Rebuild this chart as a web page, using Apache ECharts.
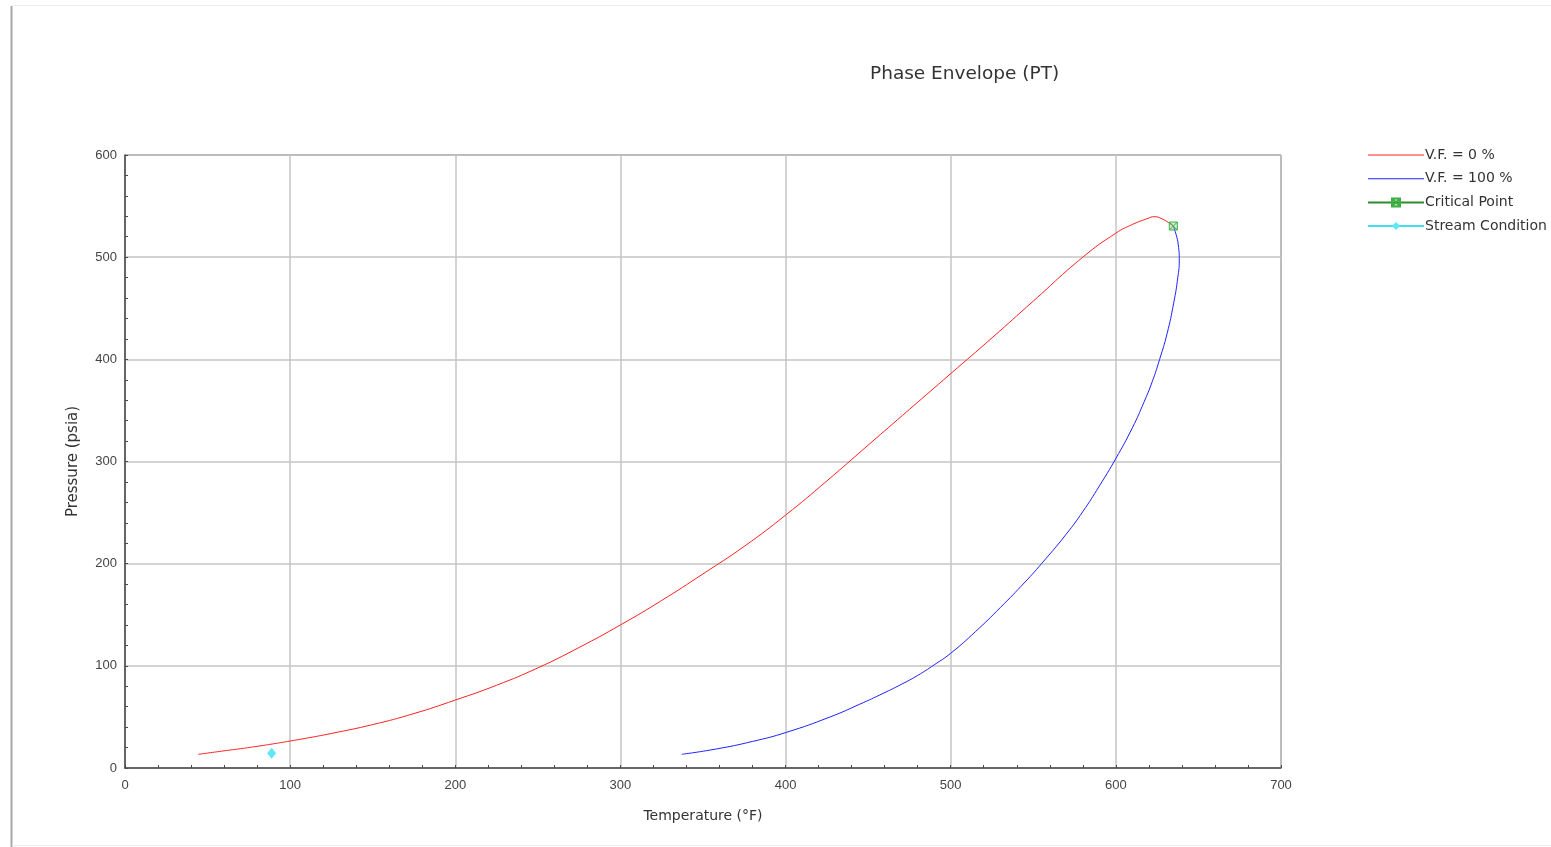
<!DOCTYPE html>
<html>
<head>
<meta charset="utf-8">
<script src="https://cdn.jsdelivr.net/npm/echarts@6/dist/echarts.min.js"></script>
<style>
html,body{margin:0;padding:0;background:#fff;}
#c{width:1551px;height:847px;}
</style>
</head>
<body>
<div id="c"></div>
<script>
const titleText = 'Phase Envelope (PT)';
const xAxisName = 'Temperature (°F)';
const yAxisName = 'Pressure (psia)';
const seriesNames = ['V.F. = 0 %', 'V.F. = 100 %', 'Critical Point', 'Stream Condition'];

// Bubble line (vapor fraction 0 %): [T °F, P psia]
const bubbleT = [44.4, 50, 60, 70, 80, 90, 100, 112, 125, 150, 175, 200, 225, 250, 275, 300, 325, 350, 375, 400, 425, 450, 475, 500, 525, 550, 580, 600, 610, 619.5, 623, 628, 634.8];
const bubbleP = [13.4, 14.6, 16.8, 18.9, 21.2, 23.7, 26.4, 29.8, 33.8, 42.5, 53.3, 66.5, 81, 98, 118, 140, 164, 190, 217, 247.5, 281, 316, 351, 386, 421, 457, 500, 523.5, 532, 538, 539.6, 537.5, 530.5];

// Dew line (vapor fraction 100 %)
const dewT = [337.1, 358, 380, 400.7, 427, 445, 459, 470, 480, 490, 500, 515, 530, 545, 555, 570, 580, 590, 600, 610, 617, 622, 626.5, 631, 635, 637.5, 638.4, 637.8, 636.5, 634.8];
const dewP = [13.4, 18.6, 26, 35, 50, 62.5, 73, 81.8, 90.6, 101, 112.3, 133.5, 157, 182, 200, 229, 251, 276, 303, 333, 358, 378, 400, 425, 455, 480, 497, 512, 522, 530.5];

const criticalT = [634.8];
const criticalP = [530.5];
const streamT = [88.8];
const streamP = [14.4];

const zip = (a, b) => a.map((v, i) => [v, b[i]]);

const font = 'Liberation Sans, Arial, sans-serif';
const font2 = 'DejaVu Sans, sans-serif';
const lineIcon = 'path://M0,0L56,0L56,1L0,1Z';
const chart = echarts.init(document.getElementById('c'), null, {renderer: 'canvas'});
chart.setOption({
  backgroundColor: '#fff',
  animation: false,
  title: {
    text: titleText,
    left: 865, top: 60,
    textStyle: {fontFamily: font2, fontSize: 18.5, fontWeight: 'normal', color: '#333'}
  },
  graphic: [
    {type: 'line', shape: {x1: 11.5, y1: 6, x2: 11.5, y2: 847}, style: {stroke: '#a8a8a8', lineWidth: 2}},
    {type: 'line', shape: {x1: 12, y1: 5.5, x2: 1551, y2: 5.5}, style: {stroke: '#ececec', lineWidth: 1}},
    {type: 'line', shape: {x1: 12, y1: 845.5, x2: 1551, y2: 845.5}, style: {stroke: '#ececec', lineWidth: 1}}
  ],
  legend: {
    orient: 'vertical',
    left: 1362, top: 143,
    itemWidth: 56, itemHeight: 10, itemGap: 9.7,
    textStyle: {fontFamily: font2, fontSize: 14, color: '#333', padding: [0, 0, 0, -4]},
    data: [
      {name: seriesNames[0], icon: lineIcon},
      {name: seriesNames[1], icon: lineIcon},
      {name: seriesNames[2]},
      {name: seriesNames[3]}
    ]
  },
  grid: {left: 125, top: 155, right: 270, bottom: 79, show: true, borderColor: '#4a4a4a', borderWidth: 1},
  xAxis: {
    type: 'value', min: 0, max: 700, interval: 100,
    name: xAxisName, nameLocation: 'middle', nameGap: 41,
    nameTextStyle: {fontFamily: font2, fontSize: 14, color: '#333'},
    axisLine: {show: true, lineStyle: {color: '#4a4a4a', width: 1.5}},
    axisTick: {show: true, inside: true, length: 3, lineStyle: {color: '#4a4a4a'}},
    minorTick: {show: true, splitNumber: 5, length: 3, lineStyle: {color: '#4a4a4a'}},
    axisLabel: {fontFamily: font, fontSize: 13, color: '#444', margin: 11},
    splitLine: {show: true, lineStyle: {color: '#c4c4c4', width: 1.5}}
  },
  yAxis: {
    type: 'value', min: 0, max: 600, interval: 100,
    name: yAxisName, nameLocation: 'middle', nameGap: 44, nameRotate: 90,
    nameTextStyle: {fontFamily: font2, fontSize: 15, color: '#333'},
    axisLine: {show: true, lineStyle: {color: '#4a4a4a', width: 1.5}},
    axisTick: {show: true, inside: true, length: 3, lineStyle: {color: '#4a4a4a'}},
    minorTick: {show: true, splitNumber: 5, length: 3, lineStyle: {color: '#4a4a4a'}},
    axisLabel: {fontFamily: font, fontSize: 13, color: '#444', margin: 8},
    splitLine: {show: true, lineStyle: {color: '#c4c4c4', width: 1.5}}
  },
  series: [
    {name: seriesNames[0], type: 'line', data: zip(bubbleT, bubbleP), smooth: 0.5, showSymbol: false, symbol: 'none',
     lineStyle: {color: '#ff2020', width: 1}, itemStyle: {color: '#ff2020'}},
    {name: seriesNames[1], type: 'line', data: zip(dewT, dewP), smooth: 0.5, showSymbol: false, symbol: 'none',
     lineStyle: {color: '#2020ff', width: 1}, itemStyle: {color: '#2020ff'}},
    {name: seriesNames[2], type: 'line', data: zip(criticalT, criticalP),
     symbol: 'path://M0,0L10,0L10,10L0,10Z M0,0L10,10 M10,0L0,10', symbolSize: 8,
     lineStyle: {color: '#2e8b2e', width: 1},
     itemStyle: {color: 'rgba(60,176,67,0.25)', borderColor: '#3cb043', borderWidth: 1}},
    {name: seriesNames[3], type: 'line', data: zip(streamT, streamP),
     symbol: 'diamond', symbolSize: [9, 11],
     lineStyle: {color: '#40e0f0', width: 1},
     itemStyle: {color: '#5ee8f4'}}
  ]
});
</script>
</body>
</html>
